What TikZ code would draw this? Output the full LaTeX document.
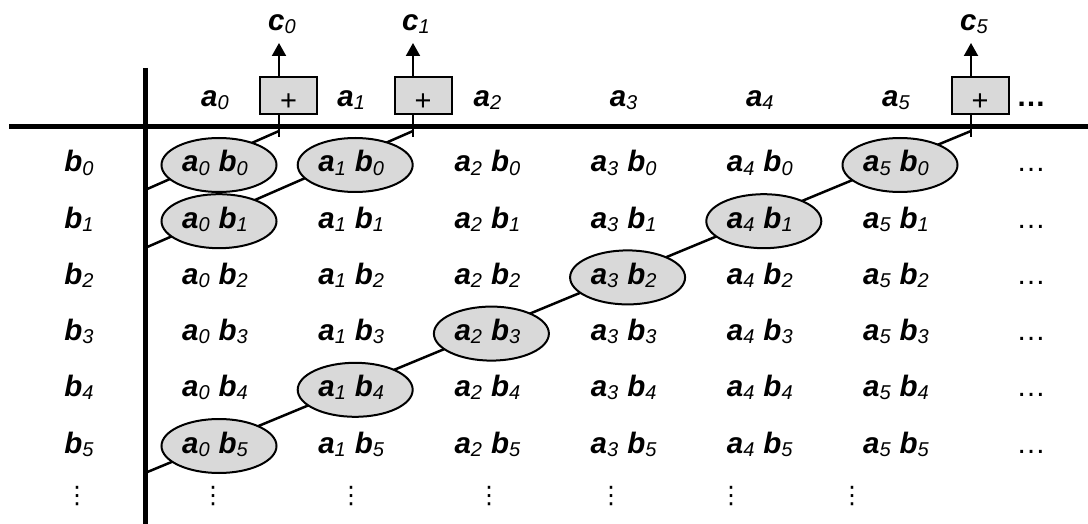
\documentclass[tikz,border=0pt]{standalone}
\usepackage{fontspec}
\setmainfont{Liberation Sans}
\newfontfamily\dvfont{DejaVu Sans}
\usetikzlibrary{shapes.geometric,arrows.meta}
\definecolor{cellgray}{RGB}{217,217,217}
\newcommand{\sv}[2]{\textbf{\textit{#1}}\raisebox{-3pt}{\fontsize{20}{20}\selectfont\textit{#2}}}
\newcommand{\cellab}[2]{\sv{a}{#1}\hspace{9pt}\sv{b}{#2}}
\begin{document}
\begin{tikzpicture}[x=1pt,y=-1pt,
  lbl/.style={anchor=base,inner sep=0pt,font=\fontsize{29.5}{32}\selectfont},
  oval/.style={ellipse,draw,line width=2pt,fill=cellgray,minimum width=115pt,minimum height=54pt,inner sep=0pt},
  plusbox/.style={draw,line width=2pt,fill=cellgray,minimum width=57pt,minimum height=37pt,inner sep=0pt,text height=30pt,text depth=0pt,font=\fontsize{29}{32}\selectfont},
  bar/.style={line width=5pt},
  wire/.style={line width=2.5pt},
  outarrow/.style={line width=2pt,-{Triangle[width=14pt,length=13pt]}},
  vdot/.style={inner sep=0pt,font=\dvfont\fontsize{24}{24}\selectfont}]
\useasboundingbox (0,0) rectangle (1088,524);
% wires (behind ovals)
\coordinate (d0) at (279,131); \coordinate (l0) at (145,190);
\coordinate (d1) at (413,131); \coordinate (l1) at (145,248);
\coordinate (d5) at (971,131); \coordinate (l5) at (145,473);
\draw[wire] (d0) -- (l0);
\draw[wire] (d1) -- (l1);
\draw[wire] (d5) -- (l5);
% ovals
\foreach \i/\j in {0/0,1/0,0/1,5/0,4/1,3/2,2/3,1/4,0/5}{
  \pgfmathsetmacro\xo{215+136.2*\i+4}
  \pgfmathsetmacro\yo{172+56.2*\j-7}
  \node[oval] (e-\i-\j) at (\xo,\yo) {};
}
% header a labels
\foreach \i in {0,...,5}{
  \pgfmathsetmacro\xc{215+136.2*\i}
  \node[lbl] (a-\i) at (\xc,107) {\sv{a}{\i}};
}
\node[lbl] (adots) at (1031,107) {\textbf{…}};
% row labels and cells
\foreach \j in {0,...,5}{
  \pgfmathsetmacro\yb{172+56.2*\j}
  \node[lbl] (b-\j) at (79,\yb) {\sv{b}{\j}};
  \foreach \i in {0,...,5}{
    \pgfmathsetmacro\xc{215+136.2*\i}
    \node[lbl] (t-\i-\j) at (\xc,\yb) {\cellab{\i}{\j}};
  }
  \node[lbl] (r-\j) at (1031,\yb) {…};
}
% vertical dots
\foreach \k/\x in {b/77,0/213,1/351,2/489,3/611,4/731,5/852}{
  \node[vdot] (v-\k) at (\x,496) {⋮};
}
% bars
\coordinate (hl) at (9,127); \coordinate (hr) at (1088,127);
\coordinate (vt) at (145,68); \coordinate (vb) at (145,524);
\draw[bar] (hl) -- (hr);
\draw[bar] (vt) -- (vb);
% plus boxes and outputs
\foreach \k/\bx/\ax in {0/288.5/279,1/423/413,5/980/971}{
  \node[plusbox] (p\k) at (\bx,95.5) {+};
  \coordinate (s\k) at (\ax,137);
  \coordinate (tip\k) at (\ax,43);
  \draw[line width=2pt] (p\k.south -| s\k) -- (s\k);
  \draw[outarrow] (p\k.north -| s\k) -- (tip\k);
  \node[lbl] (c\k) at (\ax+3,31) {\sv{c}{\k}};
}
\end{tikzpicture}
\end{document}
